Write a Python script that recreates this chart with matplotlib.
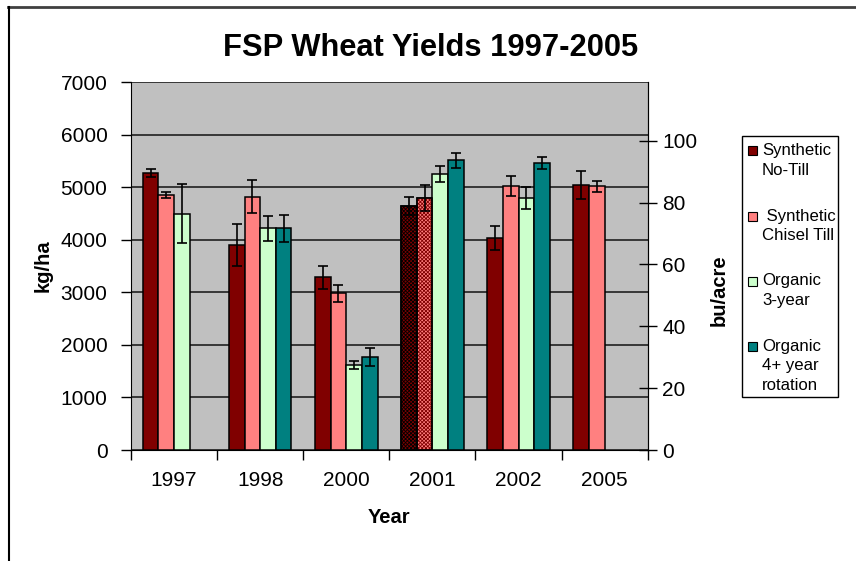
import matplotlib
matplotlib.use("Agg")
import matplotlib.pyplot as plt
from matplotlib.patches import Rectangle
from matplotlib.lines import Line2D
import numpy as np

plt.rcParams['font.family'] = ['Liberation Sans', 'DejaVu Sans']
plt.rcParams['hatch.linewidth'] = 0.6

years = ["1997", "1998", "2000", "2001", "2002", "2005"]
series = ["Synthetic\nNo-Till", " Synthetic\nChisel Till", "Organic\n3-year", "Organic\n4+ year\nrotation"]
colors = ["#800000", "#FF8080", "#CCFFCC", "#008080"]

no_till     = [5265, 3900, 3285, 4640, 4030, 5045]
no_till_err = [75, 400, 215, 165, 235, 270]
chisel      = [4845, 4820, 2980, 4790, 5015, 5015]
chisel_err  = [55, 310, 160, 250, 190, 100]
org3        = [4495, 4215, 1615, 5245, 4790, np.nan]
org3_err    = [560, 230, 70, 155, 210, np.nan]
org4        = [np.nan, 4215, 1770, 5510, 5465, np.nan]
org4_err    = [np.nan, 260, 165, 140, 115, np.nan]

values = [no_till, chisel, org3, org4]
errors = [no_till_err, chisel_err, org3_err, org4_err]
# 2001 no-till and chisel bars drawn with cross-hatch pattern
hatched = {(0, 3): "#000000", (1, 3): "#800000"}

kg_per_bu = 58.84

W, H = 856, 561
fig = plt.figure(figsize=(W / 100, H / 100), dpi=100)

L, R, T, B = 131, 647.7, 82, 450
ax = fig.add_axes([L / W, 1 - B / H, (R - L) / W, (B - T) / H])
ax.set_facecolor("#C0C0C0")

n = len(series)
bw = 1 / (n + 1.5)
x = np.arange(len(years))
for i in range(n):
    xs = x + (i - (n - 1) / 2) * bw
    vals = np.array(values[i], dtype=float)
    errs = np.array(errors[i], dtype=float)
    for j in range(len(years)):
        if np.isnan(vals[j]):
            continue
        ax.bar(xs[j], vals[j], width=bw, color=colors[i], edgecolor="black",
               linewidth=1.1, zorder=3)
        if (i, j) in hatched:
            ax.bar(xs[j], vals[j], width=bw, fill=False, edgecolor=hatched[(i, j)],
                   hatch="xxxxxxxxx", linewidth=0, zorder=3.5)
            ax.bar(xs[j], vals[j], width=bw, fill=False, edgecolor="black",
                   linewidth=1.1, zorder=3.6)
        ax.errorbar(xs[j], vals[j], yerr=errs[j], fmt="none", ecolor="black",
                    elinewidth=1.2, capsize=3.6, capthick=1.2, zorder=4)

ax.set_xlim(-0.5, len(years) - 0.5)
ax.set_ylim(0, 7000)
ax.set_yticks(np.arange(0, 7001, 1000))
ax.yaxis.grid(True, color="#202020", linewidth=1.2, zorder=1)
ax.set_axisbelow(True)
ax.set_xticks(x)
ax.set_xticklabels(years, fontsize=15)
ax.set_xticks(np.arange(-0.5, len(years) - 0.4, 1), minor=True)
ax.tick_params(axis="x", which="major", length=0, pad=15)
ax.tick_params(axis="x", which="minor", length=7, width=1, direction="out")
ax.tick_params(axis="y", labelsize=15, length=7, width=1, direction="out", pad=10)
ax.spines["top"].set_visible(False)
ax.spines["left"].set_color("black")
ax.spines["bottom"].set_color("black")
ax.spines["right"].set_color("#202020")
ax.set_ylabel("kg/ha", fontsize=14.5, fontweight="bold")
ax.yaxis.set_label_coords((53 - L) / (R - L), 0.5)
ax.set_xlabel("Year", fontsize=14.5, fontweight="bold")
ax.xaxis.set_label_coords(0.5, (B - 508) / (B - T))

ax2 = ax.twinx()
ax2.set_ylim(0, 7000 / kg_per_bu)
ax2.set_yticks(np.arange(0, 101, 20))
ax2.tick_params(axis="y", labelsize=15, length=13, width=1, direction="inout", pad=4)
ax2.spines["top"].set_visible(False)
ax2.spines["left"].set_visible(False)
ax2.spines["bottom"].set_visible(False)
ax2.set_ylabel("bu/acre", fontsize=14.5, fontweight="bold")
ax2.yaxis.set_label_coords((710 - L) / (R - L), (B - 290) / (B - T))

fig.text(431 / W, 1 - 48 / H, "FSP Wheat Yields 1997-2005", fontsize=22.2,
         fontweight="bold", ha="center", va="center")

# legend box
lx0, ly0, lx1, ly1 = 741.7, 136, 838.3, 397
fig.patches.append(Rectangle((lx0 / W, 1 - ly1 / H), (lx1 - lx0) / W, (ly1 - ly0) / H,
                             transform=fig.transFigure, facecolor="white",
                             edgecolor="black", linewidth=1, zorder=5))
for i, lab in enumerate(series):
    y0 = 151 + 65 * i
    fig.patches.append(Rectangle((748 / W, 1 - (y0 + 4.5) / H), 9 / W, 9 / H,
                                 transform=fig.transFigure, facecolor=colors[i],
                                 edgecolor="black", linewidth=0.8, zorder=6))
    for k, line in enumerate(lab.split("\n")):
        fig.text(762 / W, 1 - (y0 + 19.5 * k) / H, line, fontsize=12.1,
                 ha="left", va="center", zorder=7)

# outer chart border
fig.add_artist(Line2D([8 / W, 1], [1 - 7 / H, 1 - 7 / H], color="#404040",
                      linewidth=2, transform=fig.transFigure))
fig.add_artist(Line2D([9 / W, 9 / W], [0, 1 - 7 / H], color="black",
                      linewidth=1.5, transform=fig.transFigure))

fig.savefig("out.png", dpi=100)
